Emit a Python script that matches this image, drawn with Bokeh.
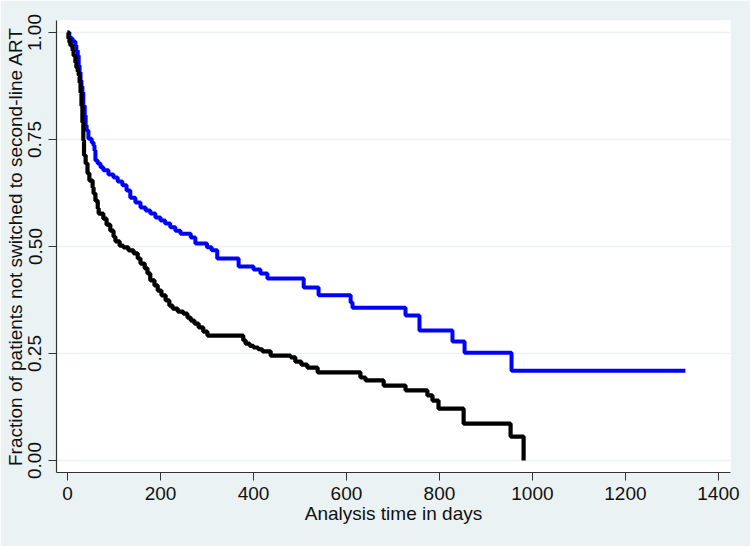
from bokeh.plotting import figure
from bokeh.models import FixedTicker, PrintfTickFormatter, Range1d
from bokeh.embed import file_html
from bokeh.resources import INLINE

# Kaplan-Meier step data (days, fraction not switched)
blue_t = [0, 4, 6, 11, 17, 19, 22, 24, 26, 28, 30, 32, 34, 37, 39, 41, 45, 52, 56, 58, 60, 65, 71,
          77, 88, 99, 108, 118, 127, 135, 146, 157, 168, 178, 189, 200, 210, 221, 232, 243, 265,
          275, 300, 310, 322, 368, 400, 415, 430, 508, 540, 609, 613, 727, 757, 828, 854, 955, 1329]
blue_s = [1.0, 0.991, 0.986, 0.979, 0.970, 0.958, 0.946, 0.923, 0.907, 0.888, 0.874, 0.860, 0.829,
          0.806, 0.783, 0.771, 0.752, 0.743, 0.736, 0.724, 0.701, 0.694, 0.685, 0.678, 0.668, 0.661,
          0.652, 0.643, 0.631, 0.614, 0.603, 0.591, 0.584, 0.577, 0.568, 0.561, 0.554, 0.545, 0.537,
          0.530, 0.521, 0.507, 0.498, 0.491, 0.472, 0.453, 0.446, 0.437, 0.425, 0.404, 0.386, 0.369,
          0.357, 0.339, 0.304, 0.278, 0.252, 0.21, 0.21]

black_t = [0, 2, 4, 6, 11, 13, 17, 19, 22, 24, 26, 28, 30, 32, 34, 35.5, 39, 43, 47, 54, 56, 60, 65,
           67, 77, 84, 92, 99, 103, 112, 120, 131, 142, 151, 157, 166, 172, 178, 187, 194, 202, 211,
           219, 226, 237, 249, 258, 265, 273, 282, 292, 301, 378, 383, 392, 400, 410, 419, 437, 480,
           490, 503, 516, 538, 630, 641, 680, 727, 774, 785, 798, 852, 953, 981]
black_s = [1.0, 0.986, 0.977, 0.970, 0.958, 0.946, 0.930, 0.918, 0.909, 0.900, 0.883, 0.860, 0.829,
           0.790, 0.748, 0.713, 0.694, 0.671, 0.654, 0.638, 0.624, 0.607, 0.589, 0.577, 0.565, 0.551,
           0.537, 0.523, 0.512, 0.502, 0.498, 0.491, 0.484, 0.472, 0.460, 0.449, 0.437, 0.421, 0.409,
           0.397, 0.386, 0.374, 0.362, 0.355, 0.348, 0.343, 0.334, 0.327, 0.320, 0.311, 0.301, 0.292,
           0.281, 0.273, 0.268, 0.264, 0.260, 0.255, 0.245, 0.241, 0.231, 0.224, 0.217, 0.206, 0.194,
           0.187, 0.175, 0.164, 0.152, 0.140, 0.121, 0.086, 0.056, 0.0]

x_ticks = [0, 200, 400, 600, 800, 1000, 1200, 1400]
y_ticks = [0.0, 0.25, 0.5, 0.75, 1.0]

BG = "#eaf2f3"
FONT = "Liberation Sans"

p = figure(width=750, height=546, output_backend="svg", toolbar_location=None,
           x_range=Range1d(-23.7, 1426), y_range=Range1d(-0.028, 1.028),
           min_border_left=56, min_border_right=20, min_border_top=20, min_border_bottom=74)
p.background_fill_color = "white"
p.border_fill_color = BG
p.outline_line_color = None

p.step(blue_t, blue_s, mode="after", line_color="#0000ff", line_width=4)
p.step(black_t, black_s, mode="after", line_color="#000000", line_width=4.2)

p.xaxis.ticker = FixedTicker(ticks=x_ticks)
p.yaxis.ticker = FixedTicker(ticks=y_ticks)
p.yaxis.formatter = PrintfTickFormatter(format="%.2f")
p.yaxis.major_label_orientation = "vertical"

for ax in (p.xaxis, p.yaxis):
    ax.axis_line_color = "#333333"
    ax.axis_line_width = 1.2
    ax.major_tick_line_color = "#333333"
    ax.major_tick_out = 8
    ax.major_tick_in = 0
    ax.minor_tick_line_color = None
    ax.major_label_text_font = FONT
    ax.major_label_text_font_size = "19px"
    ax.major_label_text_color = "#111111"
    ax.axis_label_text_font = FONT
    ax.axis_label_text_font_size = "19px"
    ax.axis_label_text_font_style = "normal"
    ax.axis_label_text_color = "#111111"

p.xaxis.major_label_standoff = 6
p.xaxis.axis_label_standoff = 0
p.yaxis.major_label_standoff = 7
p.yaxis.axis_label_standoff = 0

p.xaxis.axis_label = "Analysis time in days"
p.yaxis.axis_label = "Fraction of patients not switched to second-line ART"

p.xgrid.grid_line_color = None
p.ygrid.grid_line_color = BG
p.ygrid.grid_line_width = 1.5

html = file_html(p, INLINE)
html = html.replace("<body>", '<body style="background-color:%s;">' % BG, 1)
open("out.html", "w").write(html)
